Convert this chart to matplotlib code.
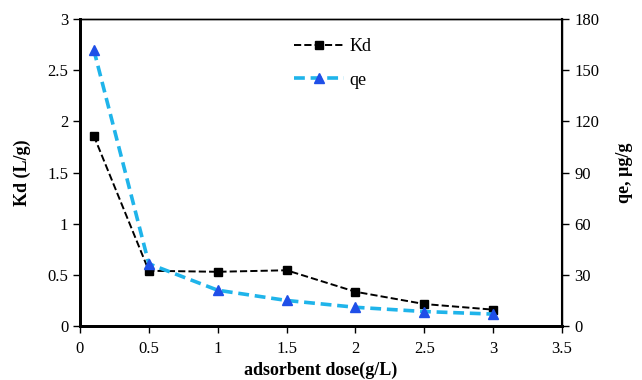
import matplotlib.pyplot as plt

plt.rcParams['font.family'] = ['Liberation Serif', 'DejaVu Serif']

dose = [0.1, 0.5, 1.0, 1.5, 2.0, 2.5, 3.0]
kd = [1.86, 0.54, 0.53, 0.545, 0.335, 0.215, 0.16]
qe = [162, 36.5, 21, 15, 11, 8.5, 7]

fig = plt.figure(figsize=(6.42, 3.80), dpi=100)
ax = fig.add_axes([0.1246, 0.142, 0.7508, 0.808])
ax2 = ax.twinx()

l1, = ax.plot(dose, kd, color='black', linestyle='--', linewidth=1.4,
              marker='s', markersize=6, label='Kd')
l2, = ax2.plot(dose, qe, color='#1fb4ea', linestyle='--', linewidth=2.6,
               dashes=(3, 1.6), marker='^', markersize=7,
               markerfacecolor='#1f4fe8', markeredgecolor='#1f4fe8', label='qe')

ax.set_xlim(0, 3.5)
ax.set_ylim(0, 3)
ax2.set_ylim(0, 180)
ax.set_xticks([0, 0.5, 1, 1.5, 2, 2.5, 3, 3.5])
ax.set_xticklabels(['0', '0.5', '1', '1.5', '2', '2.5', '3', '3.5'])
ax.set_yticks([0, 0.5, 1, 1.5, 2, 2.5, 3])
ax.set_yticklabels(['0', '0.5', '1', '1.5', '2', '2.5', '3'])
ax2.set_yticks([0, 30, 60, 90, 120, 150, 180])

for a in (ax, ax2):
    a.tick_params(labelsize=12, direction='out', length=5, width=1)
    for s in a.spines.values():
        s.set_linewidth(1)
ax.spines['left'].set_linewidth(2)
ax.spines['bottom'].set_linewidth(2)
ax2.spines['left'].set_linewidth(2)
ax2.spines['bottom'].set_linewidth(2)
ax2.spines['right'].set_linewidth(1.5)
ax.tick_params(axis='x', pad=6)
ax2.tick_params(axis='y', pad=4)

ax.set_xlabel('adsorbent dose(g/L)', fontsize=13, fontweight='bold', labelpad=3)
ax.set_ylabel('Kd (L/g)', fontsize=13, fontweight='bold', labelpad=12)
ax2.set_ylabel('qe, µg/g', fontsize=13, fontweight='bold', rotation=90, labelpad=12)

ax2.legend(handles=[l1, l2], loc='upper left', bbox_to_anchor=(0.41, 0.99),
           frameon=False, fontsize=13, handlelength=2.8, labelspacing=0.9,
           handletextpad=0.3)

fig.savefig('out.png', dpi=100)
